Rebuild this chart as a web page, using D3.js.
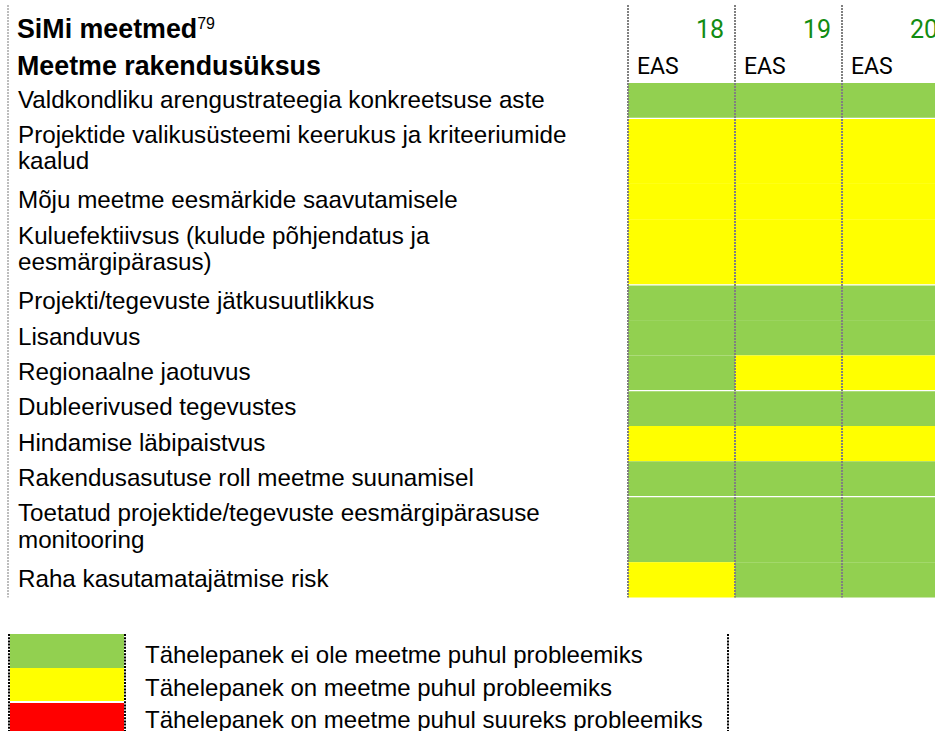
<!DOCTYPE html>
<html>
<head>
<meta charset="utf-8">
<script src="https://cdn.jsdelivr.net/npm/d3@7"></script>
<style>
  html, body { margin: 0; padding: 0; background: #fff; }
  svg { display: block; }
</style>
</head>
<body>
<svg id="chart" width="935" height="731"></svg>
<script>
// ---- data ----
const titleMain = "SiMi meetmed";
const titleNote = "79";
const titleSub = "Meetme rakendusüksus";
const columns = ["18", "19", "20"];
const columnSub = ["EAS", "EAS", "EAS"];
const rowLabels = [
  "Valdkondliku arengustrateegia konkreetsuse aste",
  "Projektide valikusüsteemi keerukus ja kriteeriumide\nkaalud",
  "Mõju meetme eesmärkide saavutamisele",
  "Kuluefektiivsus (kulude põhjendatus ja\neesmärgipärasus)",
  "Projekti/tegevuste jätkusuutlikkus",
  "Lisanduvus",
  "Regionaalne jaotuvus",
  "Dubleerivused tegevustes",
  "Hindamise läbipaistvus",
  "Rakendusasutuse roll meetme suunamisel",
  "Toetatud projektide/tegevuste eesmärgipärasuse\nmonitooring",
  "Raha kasutamatajätmise risk"
];
// 0 = not a problem, 1 = problem, 2 = big problem
const values18 = [0, 1, 1, 1, 0, 0, 0, 0, 1, 0, 0, 1];
const values19 = [0, 1, 1, 1, 0, 0, 1, 0, 1, 0, 0, 0];
const values20 = [0, 1, 1, 1, 0, 0, 1, 0, 1, 0, 0, 0];
const legendLevels = [0, 1, 2];
const legendLabels = [
  "Tähelepanek ei ole meetme puhul probleemiks",
  "Tähelepanek on meetme puhul probleemiks",
  "Tähelepanek on meetme puhul suureks probleemiks"
];

// ---- layout ----
const svg = d3.select("#chart");
const FONT = "'Liberation Sans', Arial, sans-serif";
const NUMFONT = "Roboto, 'Liberation Sans', sans-serif";
const color = d3.scaleOrdinal().domain([0, 1, 2]).range(["#92d050", "#ffff00", "#ff0000"]);

const seriesByCol = [values18, values19, values20];
const x = d3.scaleBand().domain(columns).range([628, 628 + 3 * 107]).padding(0);

// row geometry built from number of text lines per row
const lineH = 30.3, rowPad = 5.0, tableTop = 83;
const nLines = rowLabels.map(l => l.split("\n").length);
const rowTop = [];
let acc = 0;
nLines.forEach((n, i) => { rowTop.push(acc); acc += n * lineH + rowPad; });
const y = d3.scaleLinear().domain([0, acc]).range([tableTop, tableTop + acc]);
const rowH = i => nLines[i] * lineH + rowPad;
const tableBottom = y(acc);

// cells
const cells = [];
columns.forEach((c, ci) => seriesByCol[ci].forEach((v, ri) => cells.push({ c, ri, v })));
svg.append("g").selectAll("rect").data(cells).join("rect")
  .attr("x", d => x(d.c))
  .attr("y", d => y(rowTop[d.ri]))
  .attr("width", x.bandwidth())
  .attr("height", d => rowH(d.ri))
  .attr("fill", d => color(d.v));

// white separators between row groups
const sepAfter = [0, 3, 6, 9];
svg.append("g").selectAll("line").data(sepAfter).join("line")
  .attr("x1", x(columns[0])).attr("x2", 935)
  .attr("y1", i => y(rowTop[i]) + rowH(i))
  .attr("y2", i => y(rowTop[i]) + rowH(i))
  .attr("stroke", "#fff").attr("stroke-width", 1.2);

// vertical dotted grid lines
const vlines = [8].concat(columns.map(c => x(c)));
svg.append("g").selectAll("line").data(vlines).join("line")
  .attr("x1", d => d).attr("x2", d => d)
  .attr("y1", 5).attr("y2", tableBottom)
  .attr("stroke", (d, i) => i === 0 ? "#9a9a9a" : "#808080")
  .attr("stroke-width", (d, i) => i === 0 ? 1.3 : 2)
  .attr("stroke-dasharray", "2,1");

// header: column numbers and subheaders
svg.append("g").selectAll("text").data(columns).join("text")
  .attr("x", d => x(d) + x.bandwidth() - 11)
  .attr("y", 38)
  .attr("text-anchor", "end")
  .attr("font-family", NUMFONT).attr("font-size", 25)
  .attr("fill", "#128c12")
  .text(d => d);
svg.append("g").selectAll("text").data(columns).join("text")
  .attr("x", d => x(d) + 9)
  .attr("y", 74)
  .attr("font-family", NUMFONT).attr("font-size", 23)
  .attr("fill", "#000")
  .text((d, i) => columnSub[i]);

// title
const t1 = svg.append("text").attr("x", 17).attr("y", 38)
  .attr("font-family", FONT).attr("font-size", 26.8).attr("font-weight", "bold").attr("fill", "#000");
t1.append("tspan").text(titleMain);
t1.append("tspan").attr("dy", -9).attr("font-size", 16).attr("font-weight", "normal").text(titleNote);
svg.append("text").attr("x", 17).attr("y", 75)
  .attr("font-family", FONT).attr("font-size", 26.8).attr("font-weight", "bold").attr("fill", "#000")
  .text(titleSub);

// row labels
const lab = svg.append("g").selectAll("text").data(rowLabels).join("text")
  .attr("font-family", FONT).attr("font-size", 24.2).attr("fill", "#000");
lab.each(function (d, i) {
  const sel = d3.select(this);
  d.split("\n").forEach((line, k) => {
    sel.append("tspan").attr("x", 18)
      .attr("y", y(rowTop[i]) + 24.5 + k * lineH * 0.88)
      .text(line);
  });
});

// legend
const legTop = 634, legH = 34;
const lg = svg.append("g");
lg.selectAll("rect").data(legendLevels).join("rect")
  .attr("x", 10).attr("width", 114)
  .attr("y", (d, i) => legTop + i * legH + (i > 1 ? 1 : 0))
  .attr("height", (d, i) => i === 1 ? legH - 1 : legH)
  .attr("fill", d => color(d));
lg.selectAll("text").data(legendLabels).join("text")
  .attr("x", 145)
  .attr("y", (d, i) => legTop + 29 + i * 32.5)
  .attr("font-family", FONT).attr("font-size", 24).attr("fill", "#000")
  .text(d => d);
lg.selectAll("line").data([9, 125, 728]).join("line")
  .attr("x1", d => d).attr("x2", d => d)
  .attr("y1", legTop).attr("y2", 731)
  .attr("stroke", "#000").attr("stroke-width", 2)
  .attr("stroke-dasharray", "2,1.2");
</script>
</body>
</html>
